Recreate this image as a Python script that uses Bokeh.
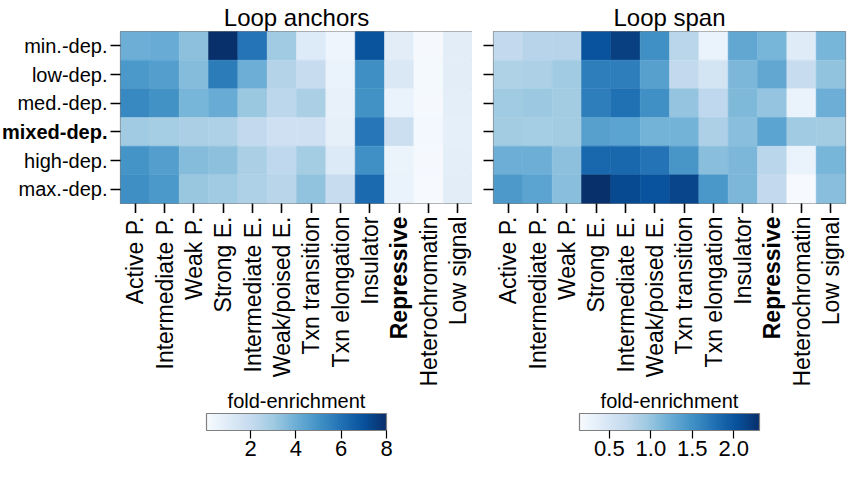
import math
from bokeh.plotting import figure
from bokeh.models import (LinearColorMapper, ColorBar, FixedTicker, Title, Range1d,
                          ColumnDataSource, FactorRange, PrintfTickFormatter)
from bokeh.palettes import Blues256
from bokeh.layouts import row, column
from bokeh.embed import file_html
from bokeh.resources import INLINE
from bokeh.core.properties import value

rows = ["min.-dep.", "low-dep.", "med.-dep.", "mixed-dep.", "high-dep.", "max.-dep."]
cols = ["Active P.", "Intermediate P.", "Weak P.", "Strong E.", "Intermediate E.",
        "Weak/poised E.", "Txn transition", "Txn elongation", "Insulator",
        "Repressive", "Heterochromatin", "Low signal"]

# Loop anchors fold-enrichment (rows x cols)
anchors_min = [4.0, 4.1, 3.4, 8.0, 5.9, 3.0, 1.1, 0.4, 6.9, 0.9, 0.15, 0.9]
anchors_low = [4.8, 4.6, 3.5, 5.7, 4.0, 2.5, 1.95, 0.6, 5.1, 1.2, 0.2, 0.9]
anchors_med = [5.3, 5.0, 3.8, 4.1, 3.1, 2.3, 2.7, 0.65, 5.0, 0.6, 0.15, 0.85]
anchors_mixed = [3.0, 2.85, 2.7, 2.6, 2.1, 1.7, 1.7, 0.75, 5.8, 1.8, 0.25, 0.8]
anchors_high = [4.95, 4.6, 3.5, 3.4, 2.7, 2.2, 2.9, 1.15, 5.05, 0.5, 0.15, 0.85]
anchors_max = [5.1, 4.8, 3.15, 2.95, 2.6, 2.4, 3.3, 1.95, 6.25, 0.6, 0.1, 0.9]

# Loop span fold-enrichment
span_min = [0.70, 0.79, 0.79, 2.03, 2.18, 1.51, 0.77, 0.29, 1.29, 1.16, 0.40, 1.16]
span_low = [0.83, 0.86, 0.94, 1.66, 1.66, 1.36, 0.70, 0.53, 1.14, 1.29, 0.66, 1.03]
span_med = [0.94, 0.97, 0.92, 1.66, 1.77, 1.51, 1.01, 0.73, 1.12, 1.01, 0.29, 1.22]
span_mixed = [0.92, 0.91, 0.92, 1.36, 1.33, 1.18, 1.18, 0.86, 1.07, 1.33, 0.94, 0.92]
span_high = [1.22, 1.22, 1.05, 1.85, 1.85, 1.75, 1.46, 1.07, 1.14, 0.77, 0.28, 1.16]
span_max = [1.42, 1.33, 1.07, 2.31, 2.09, 2.03, 2.14, 1.44, 1.14, 0.70, 0.15, 1.07]

anchors = [anchors_min, anchors_low, anchors_med, anchors_mixed, anchors_high, anchors_max]
span = [span_min, span_low, span_med, span_mixed, span_high, span_max]

anchors_ticks = [2, 4, 6, 8]
span_ticks = [0.5, 1.0, 1.5, 2.0]

bold_rows = ["mixed-dep."]
bold_cols = ["Repressive"]

FONT = "Liberation Sans"
palette = list(Blues256)[::-1]

FRAME_W = 352
FRAME_H = 172
TOP = 30
TICK = 10
XLAB_H = 174
YLAB_W = 107
XFS = "23px"
YFS = "20px"


def plain(p):
    p.outline_line_color = None
    p.grid.visible = False
    p.background_fill_color = "white"
    p.border_fill_color = "white"


def add_title(p, text):
    p.title.text = text
    p.title.align = "center"
    p.title.text_font = FONT
    p.title.text_font_size = "24px"
    p.title.text_font_style = "normal"
    p.title.text_color = "black"
    p.title.standoff = 2


def heatmap(title, matrix, low, high, border_left, border_right, y_range=None):
    xs, ys, vs = [], [], []
    for r, vals in zip(rows, matrix):
        for c, v in zip(cols, vals):
            xs.append(c)
            ys.append(r)
            vs.append(v)
    src = ColumnDataSource(dict(x=xs, y=ys, v=vs))
    mapper = LinearColorMapper(palette=palette, low=low, high=high)
    yr = y_range if y_range is not None else FactorRange(*rows[::-1])
    p = figure(x_range=FactorRange(*cols), y_range=yr,
               frame_width=FRAME_W, frame_height=FRAME_H,
               output_backend="svg", toolbar_location=None,
               min_border_left=border_left, min_border_right=border_right,
               min_border_top=TOP, min_border_bottom=0)
    p.rect(x="x", y="y", width=1, height=1, source=src,
           fill_color={"field": "v", "transform": mapper},
           line_color={"field": "v", "transform": mapper}, line_width=0.5)
    add_title(p, title)
    plain(p)
    p.outline_line_color = "#808080"
    p.outline_line_width = 1.2
    for ax in (p.xaxis[0], p.yaxis[0]):
        # ticks only; the category names are drawn beside the heatmaps in their own panels
        ax.axis_line_color = None
        ax.major_tick_line_color = "black"
        ax.major_tick_line_width = 1.6
        ax.major_tick_out = TICK
        ax.major_tick_in = 0
        ax.minor_tick_line_color = None
        ax.major_label_standoff = 0
        ax.major_label_text_font_size = "0px"
        ax.major_label_text_color = None
    return p, mapper


def xlabels(p, mapper, ticks, fmt, border_left, border_right):
    # category labels under the heatmap, sharing its factor range
    q = figure(x_range=p.x_range, y_range=Range1d(0, 1),
               frame_width=FRAME_W, frame_height=XLAB_H,
               output_backend="svg", toolbar_location=None,
               x_axis_type=None, y_axis_type=None,
               min_border_left=border_left, min_border_right=border_right,
               min_border_top=0, min_border_bottom=0)
    plain(q)
    reg = [c for c in cols if c not in bold_cols]
    bld = [c for c in cols if c in bold_cols]
    for names, style in ((reg, "normal"), (bld, "bold")):
        q.text(x=names, y=[1] * len(names), text=names, angle=math.pi / 2,
               y_offset=3, text_align="right", text_baseline="middle",
               text_font=value(FONT), text_font_size=value(XFS),
               text_font_style=value(style), text_color="black")
    q.add_layout(Title(text="fold-enrichment", align="center", text_font=FONT,
                       text_font_size="20px", text_font_style="normal",
                       text_color="black", standoff=0), "below")
    cb = ColorBar(color_mapper=mapper, orientation="horizontal", width=180, height=17,
                  location="center", ticker=FixedTicker(ticks=ticks),
                  formatter=PrintfTickFormatter(format=fmt),
                  major_label_text_font=FONT, major_label_text_font_size="22px",
                  major_label_text_color="black", label_standoff=2,
                  major_tick_out=8, major_tick_in=0, major_tick_line_color="black",
                  major_tick_line_width=1.2, minor_tick_line_color=None,
                  bar_line_color="#808080", bar_line_width=1.2,
                  padding=2, margin=0, background_fill_color=None,
                  border_line_color=None)
    q.add_layout(cb, "below")
    return q


p1, m1 = heatmap("Loop anchors", anchors, 0.05, 8.0, TICK + 3, 0)
p2, m2 = heatmap("Loop span", span, 0.14, 2.31, 21, 4, y_range=p1.y_range)
x1 = xlabels(p1, m1, anchors_ticks, "%d", TICK + 3, 0)
x2 = xlabels(p2, m2, span_ticks, "%.1f", 21, 4)

# row labels left of the first heatmap, sharing its factor range
ylab = figure(x_range=Range1d(0, 1), y_range=p1.y_range,
              frame_width=YLAB_W, frame_height=FRAME_H,
              output_backend="svg", toolbar_location=None,
              x_axis_type=None, y_axis_type=None,
              min_border_left=0, min_border_right=0,
              min_border_top=TOP, min_border_bottom=0)
plain(ylab)
add_title(ylab, " ")
reg_r = [r for r in rows if r not in bold_rows]
bld_r = [r for r in rows if r in bold_rows]
for names, style in ((reg_r, "normal"), (bld_r, "bold")):
    ylab.text(x=[1] * len(names), y=names, text=names,
              text_align="right", text_baseline="middle",
              text_font=value(FONT), text_font_size=value(YFS),
              text_font_style=value(style), text_color="black")

layout = row(ylab, column(p1, x1), column(p2, x2))
open("out.html", "w").write(file_html(layout, INLINE))
